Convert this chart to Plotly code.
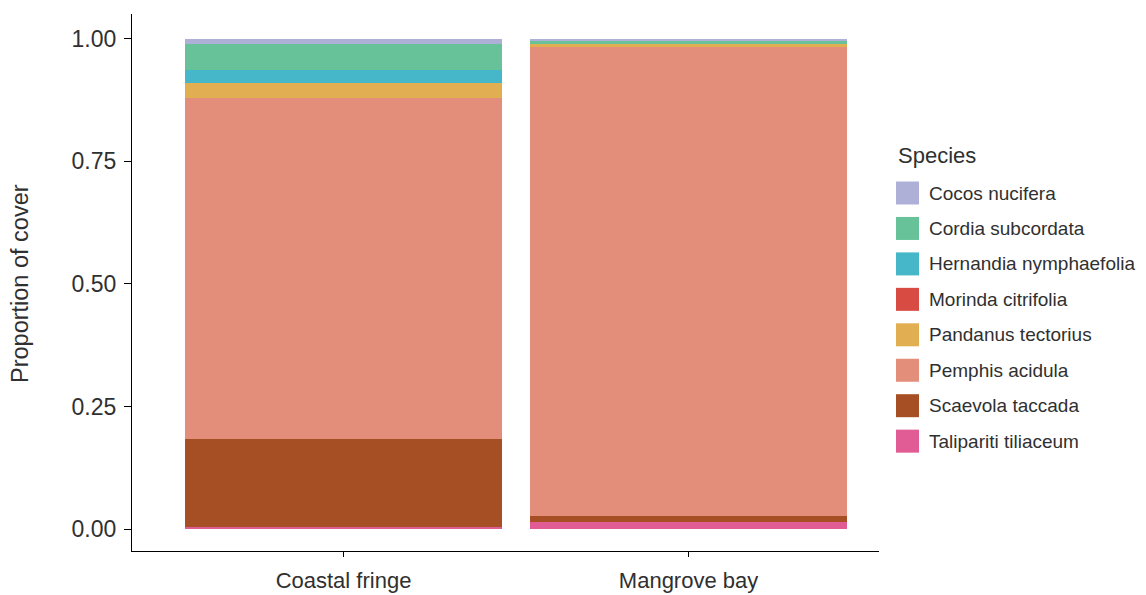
import plotly.graph_objs as go

# proportion of cover by site
sites = ['Coastal fringe', 'Mangrove bay']
species = ['Cocos nucifera', 'Cordia subcordata', 'Hernandia nymphaefolia',
           'Morinda citrifolia', 'Pandanus tectorius', 'Pemphis acidula',
           'Scaevola taccada', 'Talipariti tiliaceum']
cocos = [0.011, 0.006]
cordia = [0.053, 0.005]
hernandia = [0.027, 0.0]
morinda = [0.0, 0.0]
pandanus = [0.030, 0.007]
pemphis = [0.694, 0.955]
scaevola = [0.180, 0.012]
talipariti = [0.005, 0.015]
colours = ['#AEB0D8', '#67C29A', '#45B7C8', '#D84B42',
           '#E1AF52', '#E28E7A', '#A74F24', '#E15C94']

values = [cocos, cordia, hernandia, morinda, pandanus, pemphis, scaevola, talipariti]

FONT = 'Liberation Sans'
TXT = '#303030'
OFF = 8  # page body margin, the figure is drawn 8px in
W, H = 1146 - OFF, 595 - OFF
# plot area in page pixels: x 132..879, y 14..551
L, T = 132 - OFF, 14 - OFF
R, B = W - (879 - OFF), H - (551 - OFF)
pw, ph = W - L - R, H - T - B

fig = go.Figure()
# first species in the legend sits on top of the stack, so add from the bottom up
for name, vals, col in reversed(list(zip(species, values, colours))):
    fig.add_trace(go.Bar(x=sites, y=vals, name=name, marker_color=col,
                         marker_line_width=0, width=0.919, showlegend=False))


# page pixel -> paper coords
def px_x(x):
    return (x - OFF - L) / pw


def px_y(y):
    return (H - B - (y - OFF)) / ph


# legend drawn by hand so the keys are big squares like the original
shapes = []
annotations = [
    dict(text='Species', x=px_x(896), y=px_y(155), xref='paper', yref='paper',
         xanchor='left', yanchor='middle', showarrow=False,
         font=dict(family=FONT, size=22, color=TXT)),
    dict(text='Proportion of cover', x=px_x(20), y=px_y(284), xref='paper', yref='paper',
         xanchor='center', yanchor='middle', textangle=-90, showarrow=False,
         font=dict(family=FONT, size=23.5, color=TXT)),
]
for i, (name, col) in enumerate(zip(species, colours)):
    cy = 193 + 35.45 * i
    shapes.append(dict(type='rect', xref='paper', yref='paper',
                       x0=px_x(896), x1=px_x(919), y0=px_y(cy - 11.5), y1=px_y(cy + 11.5),
                       fillcolor=col, line_width=0))
    annotations.append(dict(text=name, x=px_x(927), y=px_y(cy), xref='paper', yref='paper',
                            xanchor='left', yanchor='middle', showarrow=False,
                            font=dict(family=FONT, size=19, color=TXT)))

fig.update_layout(
    width=W, height=H,
    margin=dict(l=L, r=R, t=T, b=B, autoexpand=False),
    barmode='stack', bargap=0,
    plot_bgcolor='white', paper_bgcolor='white',
    font=dict(family=FONT, size=22, color=TXT),
    shapes=shapes, annotations=annotations,
    xaxis=dict(range=[-0.613, 1.552], showline=True, linecolor='black', linewidth=1.3,
               ticks='outside', ticklen=5, tickcolor='black', showgrid=False,
               ticklabelstandoff=4,
               tickfont=dict(size=22, color=TXT), zeroline=False),
    yaxis=dict(range=[-0.044, 1.05], showline=True, linecolor='black', linewidth=1.3,
               ticks='outside', ticklen=7, tickcolor='black', showgrid=False,
               tickvals=[0, 0.25, 0.5, 0.75, 1.0],
               ticktext=['0.00', '0.25', '0.50', '0.75', '1.00'],
               ticklabelstandoff=3,
               tickfont=dict(size=23, color=TXT), zeroline=False),
)

fig.write_html('out.html')
